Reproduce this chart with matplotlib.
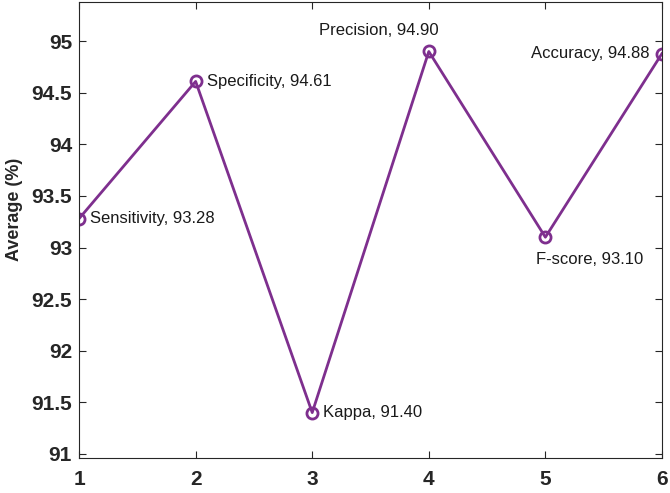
import matplotlib
matplotlib.use('Agg')
import matplotlib.pyplot as plt

plt.rcParams['font.family'] = ['Liberation Sans', 'DejaVu Sans']

# Dados
x_vals = [1, 2, 3, 4, 5, 6]
metric_names = ['Sensitivity', 'Specificity', 'Kappa', 'Precision', 'F-score', 'Accuracy']
averages = [93.28, 94.61, 91.40, 94.90, 93.10, 94.88]
y_ticks = [91, 91.5, 92, 92.5, 93, 93.5, 94, 94.5, 95]

purple = '#7e2f8e'
dark = '#262626'

fig = plt.figure(figsize=(6.7, 4.93), dpi=100)
ax = fig.add_axes([0.118, 0.071, 0.870, 0.925])

ax.plot(x_vals, averages, color=purple, linewidth=2, marker='o', markersize=8,
        markerfacecolor='none', markeredgewidth=2)

# Rótulos dos pontos (deslocamento em pontos, alinhamento)
offsets = {
    'Sensitivity': ((8, 0), 'left', 'center'),
    'Specificity': ((8, 0), 'left', 'center'),
    'Kappa': ((8, 0), 'left', 'center'),
    'Precision': ((7, 15), 'right', 'center'),
    'F-score': ((-7, -16), 'left', 'center'),
    'Accuracy': ((-9, 0), 'right', 'center'),
}
for x, name, val in zip(x_vals, metric_names, averages):
    off, ha, va = offsets[name]
    ax.annotate(f'{name}, {val:.2f}', (x, val), xytext=off, textcoords='offset points',
                ha=ha, va=va, fontsize=12, color='#1a1a1a')

ax.set_xlim(1, 6)
ax.set_ylim(90.96, 95.38)
ax.set_xticks(x_vals)
ax.set_yticks(y_ticks)
ax.set_yticklabels([f'{t:g}' for t in y_ticks])
ax.tick_params(direction='in', top=True, right=True, labelsize=15, length=5, width=0.8, colors=dark)
ax.tick_params(axis='x', pad=9)
ax.tick_params(axis='y', pad=5)
for lab in ax.get_xticklabels() + ax.get_yticklabels():
    lab.set_fontweight('bold')
    lab.set_color(dark)
for s in ax.spines.values():
    s.set_color(dark)
    s.set_linewidth(0.8)
ax.set_ylabel('Average (%)', fontsize=13, fontweight='bold', color=dark)
ax.yaxis.set_label_coords(-0.096, 0.545)

plt.savefig('out.png', dpi=100)
